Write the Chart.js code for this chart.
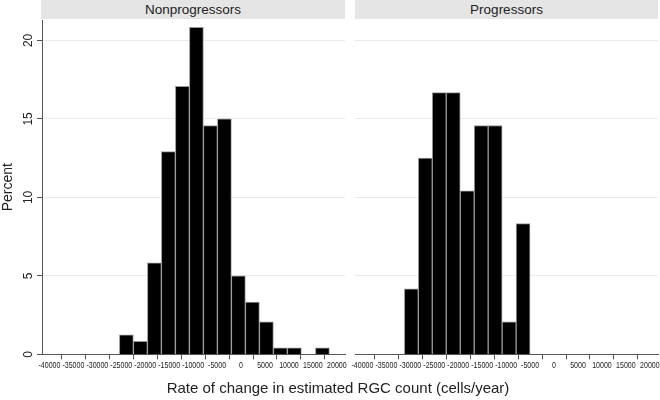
<!DOCTYPE html>
<html>
<head>
<meta charset="utf-8">
<script src="https://cdn.jsdelivr.net/npm/chart.js@4"></script>
<style>
  body { margin: 0; width: 660px; height: 400px; background: #fff; position: relative; overflow: hidden;
         font-family: "Liberation Sans", Arial, sans-serif; color: #222; }
  .strip { position: absolute; top: 0; height: 19px; background: #e5e5e5; text-align: center;
           font-size: 13.5px; line-height: 19px; }
  .wrap { position: absolute; top: 19px; height: 376px; }
  #xtitle { position: absolute; left: 0; width: 676px; top: 379px; text-align: center; font-size: 15px; }
</style>
</head>
<body>
<div class="strip" style="left:41px;width:304px">Nonprogressors</div>
<div class="strip" style="left:355px;width:303px">Progressors</div>
<div class="wrap" style="left:0;width:350px"><canvas id="leftChart"></canvas></div>
<div class="wrap" style="left:345px;width:315px"><canvas id="rightChart"></canvas></div>
<div id="xtitle">Rate of change in estimated RGC count (cells/year)</div>
<script>
const X_TICKS = [-40000, -35000, -30000, -25000, -20000, -15000, -10000, -5000, 0, 5000, 10000, 15000, 20000];
const Y_TICKS = [0, 5, 10, 15, 20];

// bin midpoints (cells/year) and percent per bin
const NONPROG_BINS = [-23940, -21015, -18090, -15170, -12245, -9320, -6400, -3475, -555, 2370, 5290, 8215, 11140, 14060, 16985];
const NONPROG_PCT = [1.25, 0.83, 5.83, 12.92, 17.08, 20.83, 14.58, 15.0, 5.0, 3.33, 2.08, 0.42, 0.42, 0, 0.42];
const PROG_BINS = [-29790, -26875, -23960, -21040, -18125, -15210, -12290, -9375, -6460];
const PROG_PCT = [4.17, 12.5, 16.67, 16.67, 10.42, 14.58, 14.58, 2.08, 8.33];

const AXIS = "#555";
const GRID = "#ebebeb";
const FONT = "'Liberation Sans', Arial, sans-serif";

// Stata-style vertical y tick labels
const yTickLabels = {
  id: "yTickLabels",
  afterDraw(chart) {
    const s = chart.scales.y;
    const ctx = chart.ctx;
    ctx.save();
    ctx.font = `12px ${FONT}`;
    ctx.fillStyle = "#222";
    ctx.textAlign = "center";
    ctx.textBaseline = "middle";
    Y_TICKS.forEach((v) => {
      ctx.save();
      ctx.translate(s.right - 13, s.getPixelForValue(v));
      ctx.rotate(-Math.PI / 2);
      ctx.fillText(String(v), 0, 0);
      ctx.restore();
    });
    ctx.restore();
  },
};

// condensed x tick labels (no narrow font installed)
const xTickLabels = {
  id: "xTickLabels",
  afterDraw(chart) {
    const s = chart.scales.x;
    const ctx = chart.ctx;
    ctx.save();
    ctx.font = `8.4px ${FONT}`;
    ctx.fillStyle = "#222";
    ctx.textAlign = "center";
    ctx.textBaseline = "middle";
    X_TICKS.forEach((v) => {
      ctx.save();
      ctx.translate(s.getPixelForValue(v), s.top + 11.5);
      ctx.scale(0.84, 1);
      ctx.fillText(String(v), 0, 0);
      ctx.restore();
    });
    ctx.restore();
  },
};

function buildChart(id, bins, pct, showY) {
  return new Chart(document.getElementById(id), {
    type: "bar",
    data: {
      datasets: [{
        data: bins.map((b, i) => ({ x: b, y: pct[i] })),
        backgroundColor: "#000", borderColor: "#999", borderWidth: 1,
        barPercentage: 1, categoryPercentage: 1,
      }],
    },
    options: {
      responsive: true, maintainAspectRatio: false, animation: false,
      layout: { padding: { top: 1, right: showY ? 5 : 2, bottom: 0, left: showY ? 0 : 10 } },
      plugins: { legend: { display: false }, tooltip: { enabled: false } },
      scales: {
        x: {
          type: "linear", min: -41550, max: 21700, offset: false,
          afterBuildTicks(s) { s.ticks = X_TICKS.map((v) => ({ value: v })); },
          afterFit(s) { s.height = 40.6; s.paddingLeft = 0; s.paddingRight = 0; },
          grid: { drawOnChartArea: false, tickLength: 5, tickColor: AXIS },
          border: { color: AXIS },
          ticks: { display: false },
        },
        y: {
          min: 0, max: 21.3,
          afterBuildTicks(s) { s.ticks = Y_TICKS.map((v) => ({ value: v })); },
          afterFit(s) { s.width = showY ? 42 : 0; s.paddingTop = 0; s.paddingBottom = 0; },
          grid: { color: GRID, tickColor: AXIS, tickLength: 5, drawTicks: showY },
          border: { display: showY, color: AXIS },
          title: { display: showY, text: "Percent", color: "#222", padding: 0, font: { family: FONT, size: 14 } },
          ticks: { display: false },
        },
      },
    },
    plugins: showY ? [yTickLabels, xTickLabels] : [xTickLabels],
  });
}

buildChart("leftChart", NONPROG_BINS, NONPROG_PCT, true);
buildChart("rightChart", PROG_BINS, PROG_PCT, false);
</script>
</body>
</html>
